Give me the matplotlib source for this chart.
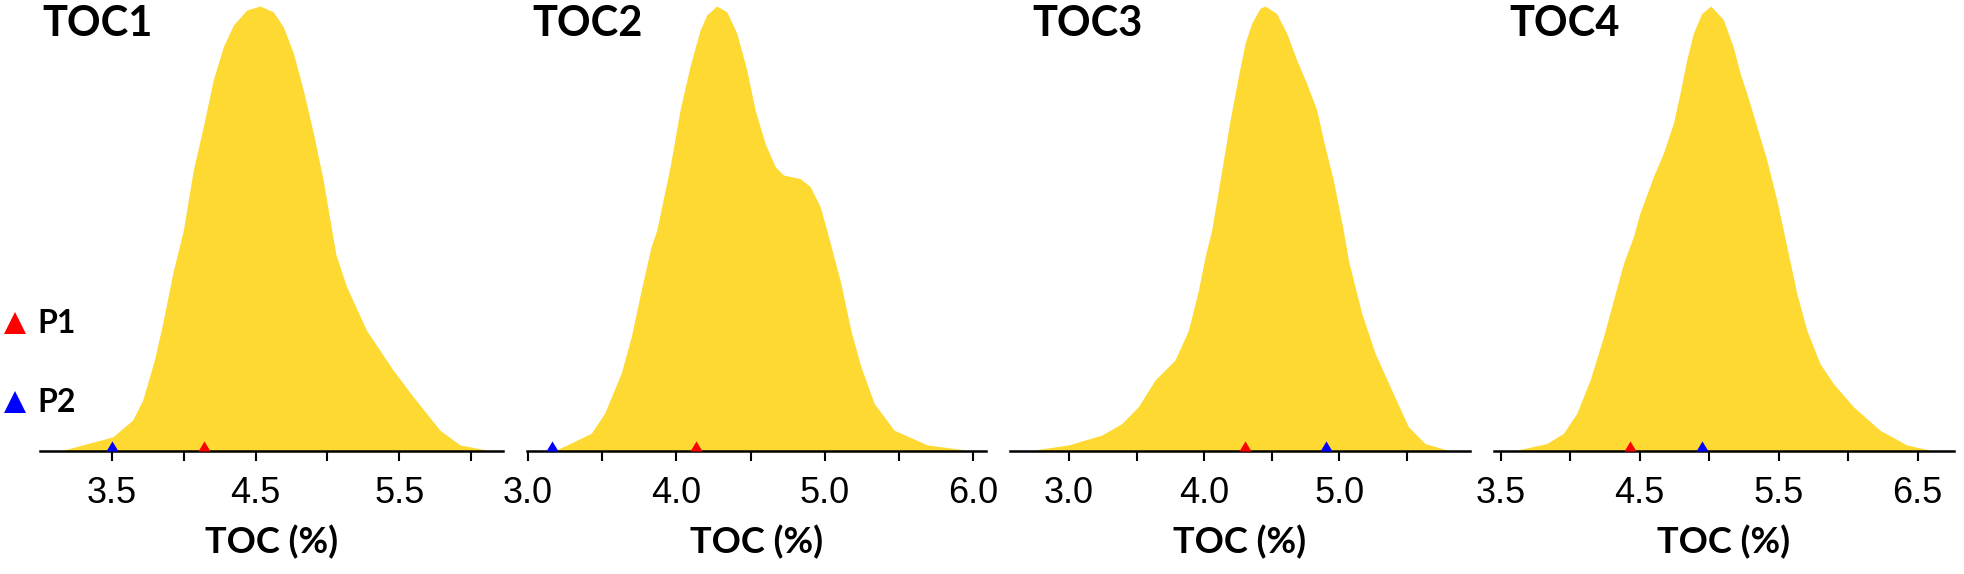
import matplotlib
matplotlib.use('Agg')
import matplotlib.pyplot as plt

titles = ['TOC1', 'TOC2', 'TOC3', 'TOC4']

# density outlines (x in TOC %, height relative to peak)
toc1_x = [3.15, 3.18, 3.505, 3.644, 3.714, 3.795, 3.853, 3.923, 3.997, 4.066, 4.136, 4.205, 4.275, 4.345,
          4.438, 4.531, 4.623, 4.693, 4.763, 4.832, 4.902, 4.971, 5.030, 5.060, 5.133, 5.272, 5.458, 5.598,
          5.784, 5.923, 6.086, 6.12]
toc1_h = [0.0, 0.003, 0.031, 0.069, 0.114, 0.204, 0.286, 0.399, 0.496, 0.631, 0.729, 0.834, 0.908, 0.957,
          0.991, 1.0, 0.987, 0.953, 0.894, 0.811, 0.714, 0.608, 0.496, 0.440, 0.369, 0.271, 0.181, 0.121,
          0.046, 0.013, 0.003, 0.0]

toc2_x = [3.17, 3.20, 3.426, 3.516, 3.628, 3.696, 3.763, 3.830, 3.868, 3.958, 4.025, 4.092, 4.160, 4.205,
          4.272, 4.340, 4.407, 4.475, 4.531, 4.598, 4.666, 4.721, 4.834, 4.902, 4.969, 5.014, 5.109, 5.176,
          5.244, 5.334, 5.468, 5.692, 5.917, 5.95]
toc2_h = [0.0, 0.003, 0.039, 0.084, 0.174, 0.256, 0.361, 0.459, 0.496, 0.639, 0.766, 0.864, 0.946, 0.980,
          1.0, 0.987, 0.939, 0.856, 0.766, 0.691, 0.639, 0.620, 0.612, 0.594, 0.549, 0.496, 0.376, 0.271,
          0.189, 0.106, 0.046, 0.013, 0.003, 0.0]

toc3_x = [2.74, 2.773, 2.995, 3.242, 3.39, 3.513, 3.637, 3.785, 3.884, 3.958, 4.007, 4.056, 4.118, 4.192,
          4.253, 4.303, 4.352, 4.414, 4.451, 4.537, 4.611, 4.685, 4.759, 4.834, 4.883, 4.957, 5.030, 5.068,
          5.167, 5.266, 5.389, 5.512, 5.636, 5.784, 5.82]
toc3_h = [0.0, 0.003, 0.013, 0.035, 0.061, 0.099, 0.159, 0.204, 0.271, 0.361, 0.436, 0.496, 0.608, 0.743,
          0.841, 0.916, 0.961, 0.995, 1.0, 0.983, 0.939, 0.879, 0.826, 0.766, 0.699, 0.608, 0.496, 0.429,
          0.309, 0.219, 0.136, 0.054, 0.016, 0.003, 0.0]

toc4_x = [3.60, 3.639, 3.831, 3.951, 4.047, 4.143, 4.239, 4.311, 4.383, 4.454, 4.502, 4.598, 4.670, 4.742,
          4.790, 4.838, 4.886, 4.946, 5.011, 5.101, 5.173, 5.222, 5.270, 5.342, 5.414, 5.486, 5.533, 5.630,
          5.702, 5.797, 5.893, 6.037, 6.229, 6.421, 6.565, 6.60]
toc4_h = [0.0, 0.003, 0.016, 0.039, 0.084, 0.159, 0.256, 0.339, 0.421, 0.481, 0.535, 0.616, 0.669, 0.736,
          0.804, 0.879, 0.939, 0.983, 1.0, 0.970, 0.908, 0.849, 0.804, 0.729, 0.654, 0.564, 0.496, 0.354,
          0.271, 0.196, 0.151, 0.099, 0.046, 0.013, 0.003, 0.0]

p1_vals = [4.14, 4.13, 4.30, 4.43]
p2_vals = [3.50, 3.16, 4.90, 4.95]

ticks = [[3.5, 4.0, 4.5, 5.0, 5.5, 6.0],
         [3.0, 3.5, 4.0, 4.5, 5.0, 5.5, 6.0],
         [3.0, 3.5, 4.0, 4.5, 5.0, 5.5],
         [3.5, 4.0, 4.5, 5.0, 5.5, 6.0, 6.5]]
tick_labels = [['3.5', '', '4.5', '', '5.5', ''],
               ['3.0', '', '4.0', '', '5.0', '', '6.0'],
               ['3.0', '', '4.0', '', '5.0', ''],
               ['3.5', '', '4.5', '', '5.5', '', '6.5']]
xlims = [(3.0, 6.22), (2.99, 6.09), (2.56, 5.97), (3.45, 6.76)]

curves = [(toc1_x, toc1_h), (toc2_x, toc2_h), (toc3_x, toc3_h), (toc4_x, toc4_h)]

W, H = 1965, 574
fill_color = '#FDD931'
bold_font = 'Lato'
tick_font = 'Liberation Sans'

# axes extents in pixels
px_lr = [(40.2, 502.6), (526.5, 986.4), (1009.6, 1470.2), (1493.8, 1953.8)]
title_x = [42, 532, 1032, 1509]
ax_bottom = (H - 450.7) / H
ax_top = (H - 6) / H

# triangle sitting on its base (origin at base centre)
base_tri = [(-0.6, 0.0), (0.6, 0.0), (0.0, 1.0), (-0.6, 0.0)]

fig = plt.figure(figsize=(W / 100, H / 100), dpi=100)

for i in range(4):
    l, r = px_lr[i]
    ax = fig.add_axes([l / W, ax_bottom, (r - l) / W, ax_top - ax_bottom])
    xs, hs = curves[i]
    ax.fill_between(xs, 0, hs, color=fill_color, linewidth=0, zorder=1)
    ax.plot([p1_vals[i]], [0], linestyle='none', marker=base_tri, markersize=14.5,
            color='#FF0000', markeredgewidth=0, clip_on=False, zorder=4)
    ax.plot([p2_vals[i]], [0], linestyle='none', marker=base_tri, markersize=14.5,
            color='#0000FF', markeredgewidth=0, clip_on=False, zorder=4)
    ax.set_xlim(*xlims[i])
    ax.set_ylim(0, 1)
    for s in ['top', 'left', 'right']:
        ax.spines[s].set_visible(False)
    ax.spines['bottom'].set_linewidth(1.8)
    ax.spines['bottom'].set_color('black')
    ax.set_yticks([])
    ax.set_xticks(ticks[i], labels=tick_labels[i])
    ax.tick_params(axis='x', direction='out', length=7, width=1.5, pad=11,
                   labelsize=26, colors='black')
    for lab in ax.get_xticklabels():
        lab.set_fontfamily(tick_font)
    ax.set_xlabel('TOC (%)', fontfamily=bold_font, fontweight='bold', fontsize=26, labelpad=10)
    ax.patch.set_alpha(0)
    fig.text(title_x[i] / W, (H - 36) / H, titles[i], fontfamily=bold_font, fontweight='bold',
             fontsize=30, ha='left', va='baseline')

# P1 / P2 key at the left of the first panel
fig.lines.append(plt.Line2D([15 / W], [(H - 322.5) / H], transform=fig.transFigure, marker='^',
                            markersize=16.5, color='#FF0000', linestyle='none', markeredgewidth=0))
fig.lines.append(plt.Line2D([15 / W], [(H - 402) / H], transform=fig.transFigure, marker='^',
                            markersize=16.5, color='#0000FF', linestyle='none', markeredgewidth=0))
fig.text(37 / W, (H - 333) / H, 'P1', fontfamily=bold_font, fontweight='bold', fontsize=23,
         ha='left', va='baseline')
fig.text(37 / W, (H - 412) / H, 'P2', fontfamily=bold_font, fontweight='bold', fontsize=23,
         ha='left', va='baseline')

fig.savefig('out.png', dpi=100)
